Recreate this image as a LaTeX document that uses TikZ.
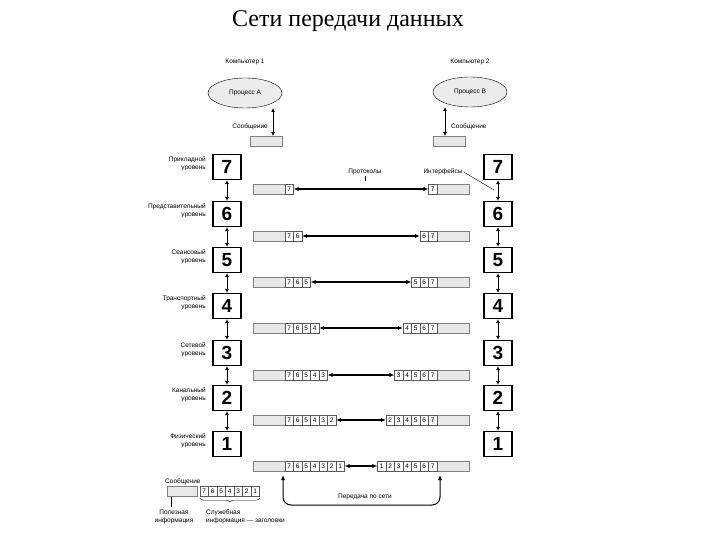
\documentclass[tikz,border=0pt]{standalone}
\usepackage{fontspec}
\setmainfont{Liberation Sans}
\newfontfamily\ttl{Liberation Serif}
\usetikzlibrary{arrows.meta,decorations.pathreplacing,shapes.geometric}
\begin{document}
\begin{tikzpicture}[x=1pt,y=-1pt,
  lvl/.style={draw,line width=1.2pt,minimum width=28pt,minimum height=25pt,inner sep=0,font=\bfseries\fontsize{19}{19}\selectfont},
  lab/.style={align=right,anchor=east,font=\fontsize{6.5}{7.5}\selectfont,inner sep=1pt},
  sm/.style={font=\fontsize{6.5}{7.5}\selectfont,inner sep=1pt},
  gbox/.style={draw=gray,fill=gray!18,minimum width=32pt,minimum height=10pt,inner sep=0},
  cell/.style={draw=gray!70!black,fill=white,minimum width=8.5pt,minimum height=10pt,inner sep=0,font=\fontsize{6.5}{7}\selectfont},
  va/.style={{Latex[length=4pt,width=4pt]}-{Latex[length=4pt,width=4pt]},line width=1pt},
  harr/.style={{Latex[length=5pt,width=4.5pt]}-{Latex[length=5pt,width=4.5pt]},line width=1.2pt}]
\useasboundingbox (0,0) rectangle (720,540);
\node[font=\ttl\fontsize{24}{24}\selectfont] (title) at (348,21) {Сети передачи данных};
\node[sm] (c1) at (245,62) {Компьютер 1};
\node[sm] (c2) at (470,62) {Компьютер 2};
\node[draw,ellipse,fill=gray!15,minimum width=74pt,minimum height=30pt,sm] (pa) at (245,93) {Процесс A};
\node[draw,ellipse,fill=gray!15,minimum width=74pt,minimum height=30pt,sm] (pb) at (470,92) {Процесс B};
\node[gbox] (ma) at (266,141) {};
\node[gbox] (mb) at (449,141) {};
\coordinate (pat) at (273,108); \coordinate (mat) at (273,136);
\coordinate (pbt) at (445,107); \coordinate (mbt) at (445,136);
\draw[va] (pat) -- (mat);
\draw[va] (pbt) -- (mbt);
\node[sm,anchor=east] (sa) at (269,127) {Сообщение};
\node[sm,anchor=west] (sb) at (450,127) {Сообщение};
\foreach \k/\y/\a/\b in {7/167/Прикладной/уровень,6/214/Представительный/уровень,5/260/Сеансовый/уровень,4/306/Транспортный/уровень,3/353/Сетевой/уровень,2/398/Канальный/уровень,1/444/Физический/уровень}{
  \node[lvl] (L\k) at (227,\y) {\k};
  \node[lvl] (R\k) at (498,\y) {\k};
  \node[lab] (t\k) at (207,\y-3) {\a\\\b};
  \node[gbox] (lg\k) at (269,\y+22) {};
  \node[gbox] (rg\k) at (453,\y+22) {};
  \foreach \i in {7,...,\k}{
    \pgfmathsetmacro{\xl}{285+4.25+8.5*(7-\i)}
    \pgfmathsetmacro{\xr}{437-4.25-8.5*(7-\i)}
    \node[cell] (lc\k\i) at (\xl,\y+22) {\i};
    \node[cell] (rc\k\i) at (\xr,\y+22) {\i};
  }
}
\draw[harr] (lc77.east) -- (rc77.west);
\draw[harr] (lc66.east) -- (rc66.west);
\draw[harr] (lc55.east) -- (rc55.west);
\draw[harr] (lc44.east) -- (rc44.west);
\draw[harr] (lc33.east) -- (rc33.west);
\draw[harr] (lc22.east) -- (rc22.west);
\draw[harr] (lc11.east) -- (rc11.west);
\foreach \u/\d in {7/6,6/5,5/4,4/3,3/2,2/1}{
  \draw[va] (L\u.south) -- (L\d.north);
  \draw[va] (R\u.south) -- (R\d.north);
}
\node[sm] (prot) at (365,172) {Протоколы};
\coordinate (pt) at (365,181);
\draw (prot.south) -- (pt);
\node[sm] (intf) at (443,172) {Интерфейсы};
\coordinate (it) at (494,190);
\draw (intf.east) -- (it);
\node[sm,anchor=west] (lm) at (164,482) {Сообщение};
\node[gbox,minimum width=30pt] (lgb) at (182,491) {};
\foreach \i in {7,...,1}{
  \pgfmathsetmacro{\xx}{200+4.25+8.5*(7-\i)}
  \node[cell] (bc\i) at (\xx,491) {\i};
}
\draw[decorate,decoration={brace,mirror,amplitude=4pt}] ([yshift=-2pt]bc7.south west) -- ([yshift=-2pt]bc1.south east);
\coordinate (ut) at (171,497); \coordinate (ub) at (171,507);
\draw (ut) -- (ub);
\node[sm,align=center,anchor=north] (pi) at (174,509) {Полезная\\информация};
\node[sm,align=left,anchor=north west] (si) at (205,509) {Служебная\\информация — заголовки};
\coordinate (n1) at (283,475); \coordinate (n2) at (440,475);
\draw[{Latex[length=5pt,width=4pt]}-{Latex[length=5pt,width=4pt]},line width=1pt,rounded corners=8pt] (n1) -- (283,505) -- (440,505) -- (n2);
\node[sm] (net) at (365,497) {Передача по сети};
\end{tikzpicture}
\end{document}
